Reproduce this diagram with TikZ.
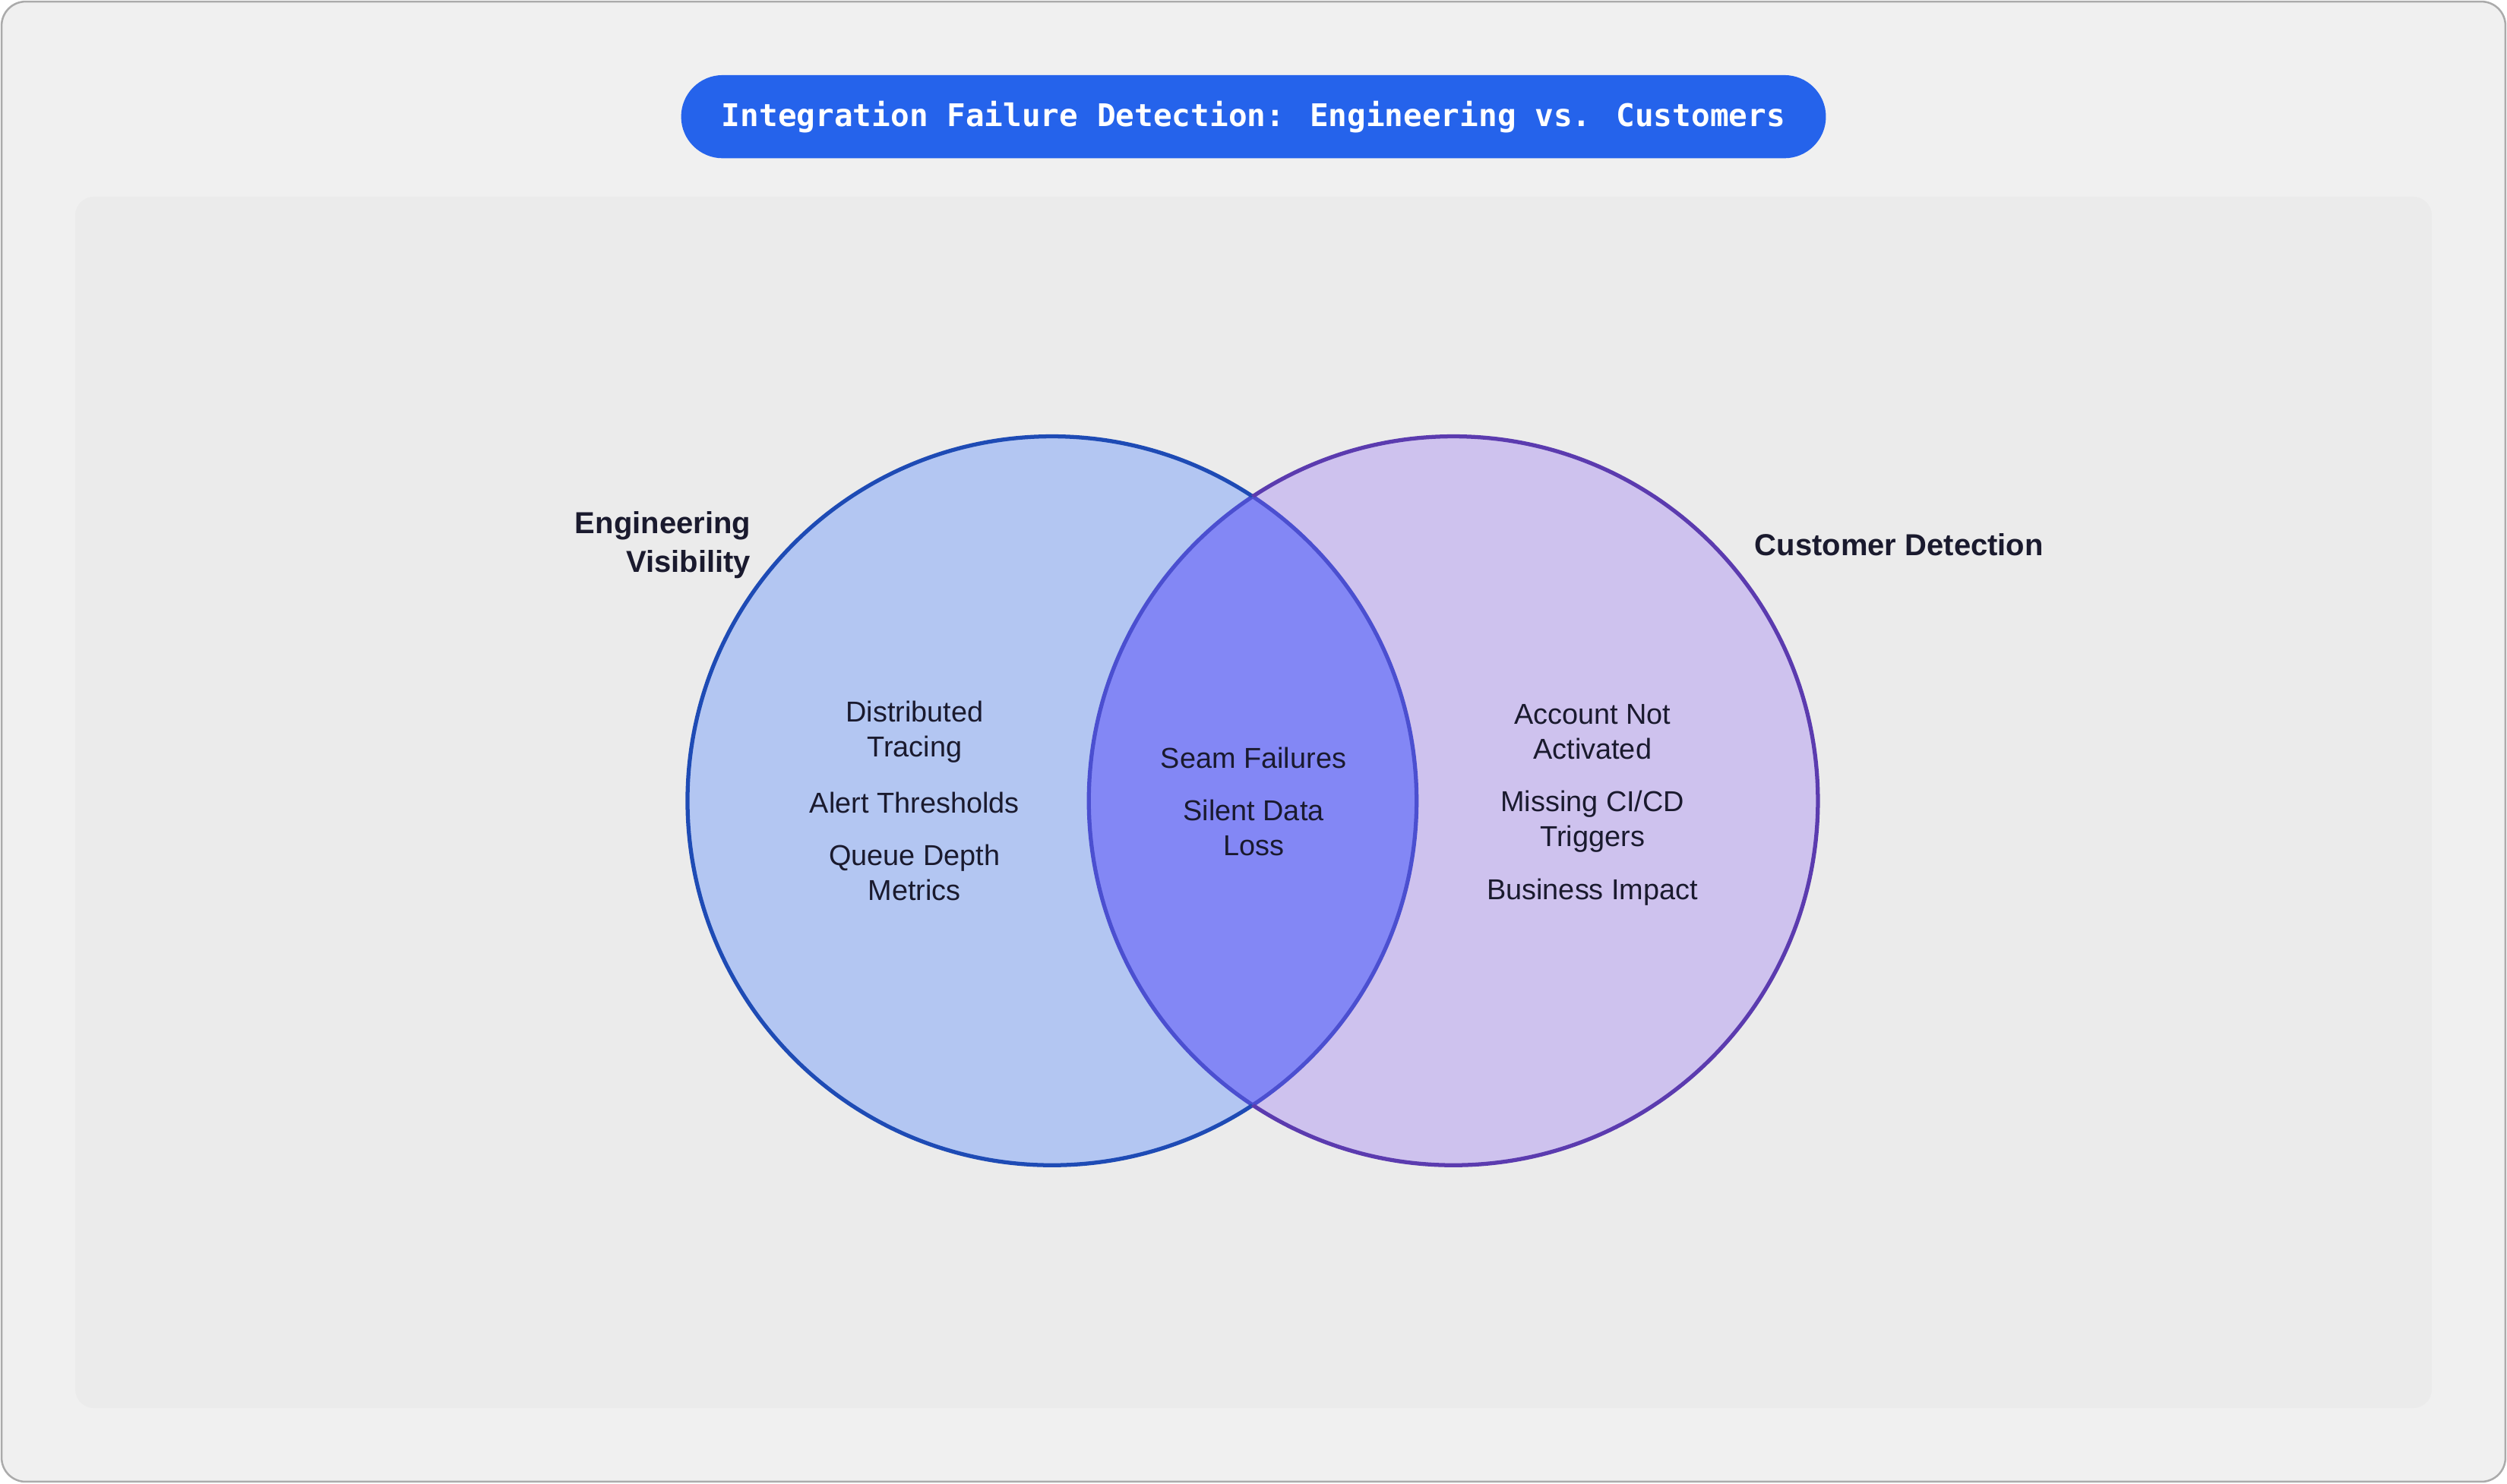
\documentclass[tikz,border=0pt]{standalone}
\usepackage{fontspec}
\setmainfont{Liberation Sans}
\newfontfamily\titlefont{DejaVu Sans Mono}
\usetikzlibrary{positioning}
\definecolor{outerbg}{HTML}{F0F0F0}
\definecolor{outerline}{HTML}{ABABAB}
\definecolor{panelbg}{HTML}{EBEBEB}
\definecolor{titleblue}{HTML}{2563EB}
\definecolor{engfill}{HTML}{B3C6F2}
\definecolor{engline}{HTML}{1E4BB5}
\definecolor{custfill}{HTML}{CEC2EE}
\definecolor{custline}{HTML}{5B3BAF}
\definecolor{seamfill}{HTML}{8387F5}
\definecolor{seamline}{HTML}{4B4FD0}
\definecolor{ink}{HTML}{1A1A2E}
\tikzset{
  item/.style={align=center, font=\fontsize{18}{22}\selectfont, text=ink},
  setlabel/.style={font=\fontsize{19}{24}\selectfont\bfseries, text=ink}
}
\begin{document}
\begin{tikzpicture}[x=1pt, y=-1pt]
    \useasboundingbox (0,0) rectangle (1568,928);
    % background and panel
    \draw[fill=outerbg, draw=outerline, line width=1.2, rounded corners=15] (1,1) rectangle (1567,927);
    \fill[panelbg, rounded corners=12] (47,123) rectangle (1521,881);
    % title
    \node[fill=titleblue, text=white, rounded corners=26, minimum width=716, minimum height=52,
          font=\titlefont\bfseries\fontsize{19.5}{24}\selectfont] (title) at (784,73)
          {Integration Failure Detection: Engineering vs. Customers};
    % circles
    \def\r{228}
    \fill[engfill] (658,501) circle (\r);
    \fill[custfill] (909,501) circle (\r);
    \begin{scope}
        \clip (658,501) circle (\r);
        \fill[seamfill] (909,501) circle (\r);
        \draw[seamline, line width=2.5] (909,501) circle (\r);
    \end{scope}
    \begin{scope}
        \clip (909,501) circle (\r);
        \draw[seamline, line width=2.5] (658,501) circle (\r);
    \end{scope}
    \begin{scope}
        \clip (0,0) rectangle (1568,928) (909,501) circle (\r);
        \draw[engline, line width=2.5] (658,501) circle (\r);
    \end{scope}
    \begin{scope}[even odd rule]
        \clip (0,0) rectangle (1568,928) (658,501) circle (\r);
        \draw[custline, line width=2.5] (909,501) circle (\r);
    \end{scope}
    % set labels
    \node[setlabel, align=right, anchor=east] (englabel) at (473,341) {Engineering\\Visibility};
    \node[setlabel, anchor=west] (custlabel) at (1094,341) {Customer Detection};
    % engineering items
    \node[item] (tracing) at (572,458) {Distributed\\Tracing};
    \node[item] (alerts) at (572,502) {Alert Thresholds};
    \node[item] (queue) at (572,546) {Queue Depth\\Metrics};
    % overlap items
    \node[item] (seam) at (784,474) {Seam Failures};
    \node[item] (silent) at (784,518) {Silent Data\\Loss};
    % customer items
    \node[item] (account) at (996,458) {Account Not\\Activated};
    \node[item] (cicd) at (996,514) {Missing CI/CD\\Triggers};
    \node[item] (impact) at (996,558) {Business Impact};
\end{tikzpicture}
\end{document}
